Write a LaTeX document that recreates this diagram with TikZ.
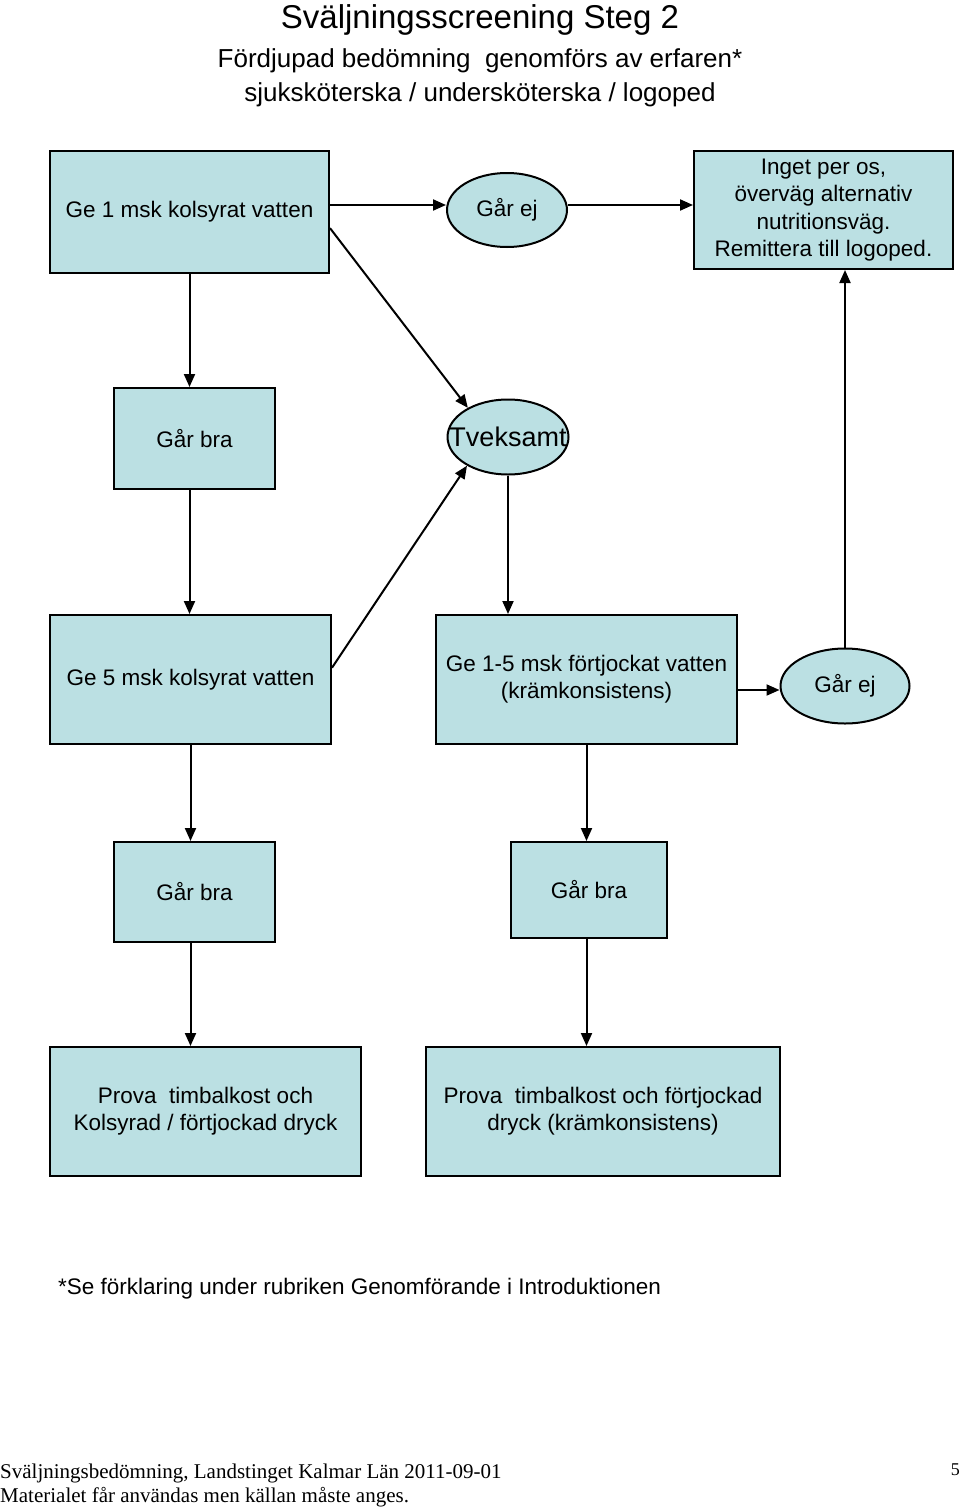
\documentclass[tikz,border=0pt]{standalone}
\usepackage{fontspec}
\setmainfont{Liberation Sans}
\newfontfamily\timesf{Liberation Serif}
\usetikzlibrary{arrows.meta,shapes.geometric,calc}
\definecolor{boxfill}{HTML}{BBE0E3}
\begin{document}
\begin{tikzpicture}[x=1pt,y=-1pt,
  box/.style={draw=black,line width=2pt,fill=boxfill,inner sep=0pt,align=center,font=\fontsize{22.5}{27.3}\selectfont},
  oval/.style={ellipse,draw=black,line width=2pt,fill=boxfill,inner sep=0pt,font=\fontsize{22.5}{27.3}\selectfont},
  arr/.style={line width=2pt,-{Triangle[length=13pt,width=11pt]}},
  plain/.style={inner sep=0pt,align=center}
  ]
\useasboundingbox (0,0) rectangle (960,1509);

% titles
\node[plain,font=\fontsize{33}{40}\selectfont] (title) at (480,20) {Sväljningsscreening Steg 2};
\node[plain,font=\fontsize{26}{34}\selectfont] (sub) at (480,78) {Fördjupad bedömning~ genomförs av erfaren*\\sjuksköterska / undersköterska / logoped};

% boxes
\node[box,minimum width=279pt,minimum height=122pt] (A) at (189.5,212) {Ge 1 msk kolsyrat vatten};
\node[oval,minimum width=120pt,minimum height=74pt] (G1) at (507,210) {Går ej};
\node[box,minimum width=259pt,minimum height=118pt] (I) at (823.5,210) {Inget per os,\\överväg alternativ\\nutritionsväg.\\Remittera till logoped.};
\node[box,minimum width=161pt,minimum height=101pt] (B1) at (194.5,438.5) {Går bra};
\node[oval,minimum width=121pt,minimum height=75pt,font=\fontsize{27}{32}\selectfont] (T) at (508,437) {\makebox[80pt]{Tveksamt}};
\node[box,minimum width=281pt,minimum height=129pt] (C) at (190.5,679.5) {Ge 5 msk kolsyrat vatten};
\node[box,minimum width=301pt,minimum height=129pt] (D) at (586.5,679.5) {Ge 1-5 msk förtjockat vatten\\(krämkonsistens)};
\node[oval,minimum width=129pt,minimum height=75pt] (G2) at (845,686) {Går ej};
\node[box,minimum width=161pt,minimum height=100pt] (B2) at (194.5,892) {Går bra};
\node[box,minimum width=156pt,minimum height=96pt] (B3) at (589,890) {Går bra};
\node[box,minimum width=311pt,minimum height=129pt] (P1) at (205.5,1111.5) {Prova~ timbalkost och\\Kolsyrad / förtjockad dryck};
\node[box,minimum width=354pt,minimum height=129pt] (P2) at (603,1111.5) {Prova~ timbalkost och förtjockad\\dryck (krämkonsistens)};

% connectors
\coordinate (g1w) at ($(G1.west)+(0,-5)$);
\coordinate (g1e) at ($(G1.east)+(0,-5)$);
\coordinate (g2w) at ($(G2.west)+(0,4)$);
\draw[arr] (A.east |- g1w) -- (g1w);
\draw[arr] (g1e) -- (g1e -| I.west);
\draw[arr] (A.south) -- (A.south |- B1.north);
\draw[arr] ($(A.north east)!0.63!(A.south east)$) -- (T.144);
\draw[arr] (A.south |- B1.south) -- (A.south |- C.north);
\draw[arr] ($(C.north east)!0.41!(C.south east)$) -- (T.215);
\draw[arr] (T.south) -- (T.south |- D.north);
\draw[arr] (D.east |- g2w) -- (g2w);
\draw[arr] (G2.north) -- (G2.north |- I.south);
\draw[arr] (C.south) -- (C.south |- B2.north);
\draw[arr] (D.south) -- (D.south |- B3.north);
\draw[arr] (C.south |- B2.south) -- (C.south |- P1.north);
\draw[arr] (D.south |- B3.south) -- (D.south |- P2.north);

% footnote and footer
\node[plain,anchor=west,font=\fontsize{22.5}{27}\selectfont] (note) at (58,1289) {*Se förklaring under rubriken Genomförande i Introduktionen};
\node[plain,anchor=west,font=\timesf\fontsize{21}{24}\selectfont] (f1) at (0,1473) {Sväljningsbedömning, Landstinget Kalmar Län 2011-09-01};
\node[plain,anchor=west,font=\timesf\fontsize{21}{24}\selectfont] (f2) at (0,1497) {Materialet får användas men källan måste anges.};
\node[plain,anchor=east,font=\timesf\fontsize{18}{22}\selectfont] (pg) at (960,1470) {5};
\end{tikzpicture}
\end{document}
